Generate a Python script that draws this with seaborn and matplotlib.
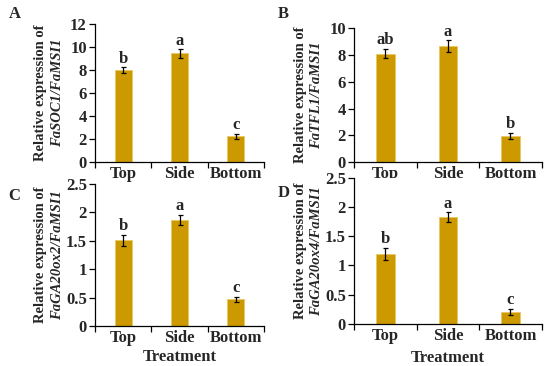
import matplotlib
matplotlib.use("Agg")
import matplotlib.pyplot as plt
import seaborn as sns
import pandas as pd
import numpy as np

sns.set_theme(style="white")
plt.rcParams['font.family'] = ['Liberation Serif', 'DejaVu Serif']
plt.rcParams['font.weight'] = 'bold'

categories = ["Top", "Side", "Bottom"]

a_vals = [8.0, 9.45, 2.25]
a_err = [0.25, 0.35, 0.2]
a_sig = ["b", "a", "c"]

b_vals = [8.1, 8.65, 1.95]
b_err = [0.35, 0.45, 0.25]
b_sig = ["ab", "a", "b"]

c_vals = [1.51, 1.87, 0.47]
c_err = [0.1, 0.09, 0.04]
c_sig = ["b", "a", "c"]

d_vals = [1.2, 1.83, 0.21]
d_err = [0.1, 0.08, 0.05]
d_sig = ["b", "a", "c"]

panels = [
    ("A", "FaSOC1/FaMSI1", a_vals, a_err, a_sig, 12, 2, [0.173, 0.557, 0.307, 0.377], None),
    ("B", "FaTFL1/FaMSI1", b_vals, b_err, b_sig, 10, 2, [0.644, 0.557, 0.341, 0.366], None),
    ("C", "FaGA20ox2/FaMSI1", c_vals, c_err, c_sig, 2.5, 0.5, [0.173, 0.109, 0.307, 0.388], 2),
    ("D", "FaGA20ox4/FaMSI1", d_vals, d_err, d_sig, 2.5, 0.5, [0.644, 0.115, 0.341, 0.399], 4),
]
letter_pos = {"A": (0.027, 0.962), "B": (0.515, 0.962), "C": (0.025, 0.465), "D": (0.515, 0.472)}

bar_color = "#CC9900"
fig = plt.figure(figsize=(5.5, 3.66), dpi=100)

for letter, gene, vals, errs, sig, ymax, step, rect, xlabpad in panels:
    ax = fig.add_axes(rect)
    df = pd.DataFrame({"Treatment": categories, "Value": vals})
    sns.barplot(data=df, x="Treatment", y="Value", order=categories, color=bar_color,
                width=0.3, errorbar=None, saturation=1, edgecolor="#E8C860", linewidth=0.6, ax=ax)
    centers = [p.get_x() + p.get_width() / 2 for p in ax.patches]
    ax.errorbar(centers, vals, yerr=errs, fmt="none", ecolor="black", elinewidth=0.9,
                capsize=1.8, capthick=0.9)
    for cx, v, e, s in zip(centers, vals, errs, sig):
        ax.annotate(s, (cx, v + e), xytext=(0, 0.5), textcoords="offset points",
                    ha="center", va="bottom", fontsize=12, fontweight="bold")
    ax.set_ylim(0, ymax)
    ax.set_xlim(-0.5, 2.5)
    ticks = np.arange(0, ymax + step / 2, step)
    ax.set_yticks(ticks)
    ax.set_yticklabels(["%g" % t for t in ticks])
    for s in ["top", "right"]:
        ax.spines[s].set_visible(False)
    for s in ["left", "bottom"]:
        ax.spines[s].set_color("black")
        ax.spines[s].set_linewidth(0.9)
    ax.tick_params(axis="y", direction="out", length=4, width=0.9, color="black",
                   labelsize=12, pad=2, left=True)
    ax.tick_params(axis="x", which="major", length=0, labelsize=12, pad=3)
    ax.set_xticks([-0.5, 0.5, 1.5, 2.5], minor=True)
    ax.tick_params(axis="x", which="minor", direction="out", length=4, width=0.9,
                   color="black", bottom=True)
    for lab in ax.get_xticklabels() + ax.get_yticklabels():
        lab.set_fontweight("bold")
    ax.set_ylabel("")
    if xlabpad is not None:
        ax.set_xlabel("Treatment", fontsize=12, fontweight="bold", labelpad=xlabpad)
    else:
        ax.set_xlabel("")
    ax.annotate("Relative expression of", (0, 0.5), xycoords="axes fraction",
                xytext=(-39, 0), textcoords="offset points", rotation=90,
                ha="center", va="center", fontsize=10.5, fontweight="bold")
    ax.annotate(gene, (0, 0.5), xycoords="axes fraction",
                xytext=(-27, 0), textcoords="offset points", rotation=90,
                ha="center", va="center", fontsize=10.5, fontweight="bold", fontstyle="italic")
    lx, ly = letter_pos[letter]
    fig.text(lx, ly, letter, fontsize=12, fontweight="bold", ha="center", va="center")

fig.savefig("out.png", dpi=100)
